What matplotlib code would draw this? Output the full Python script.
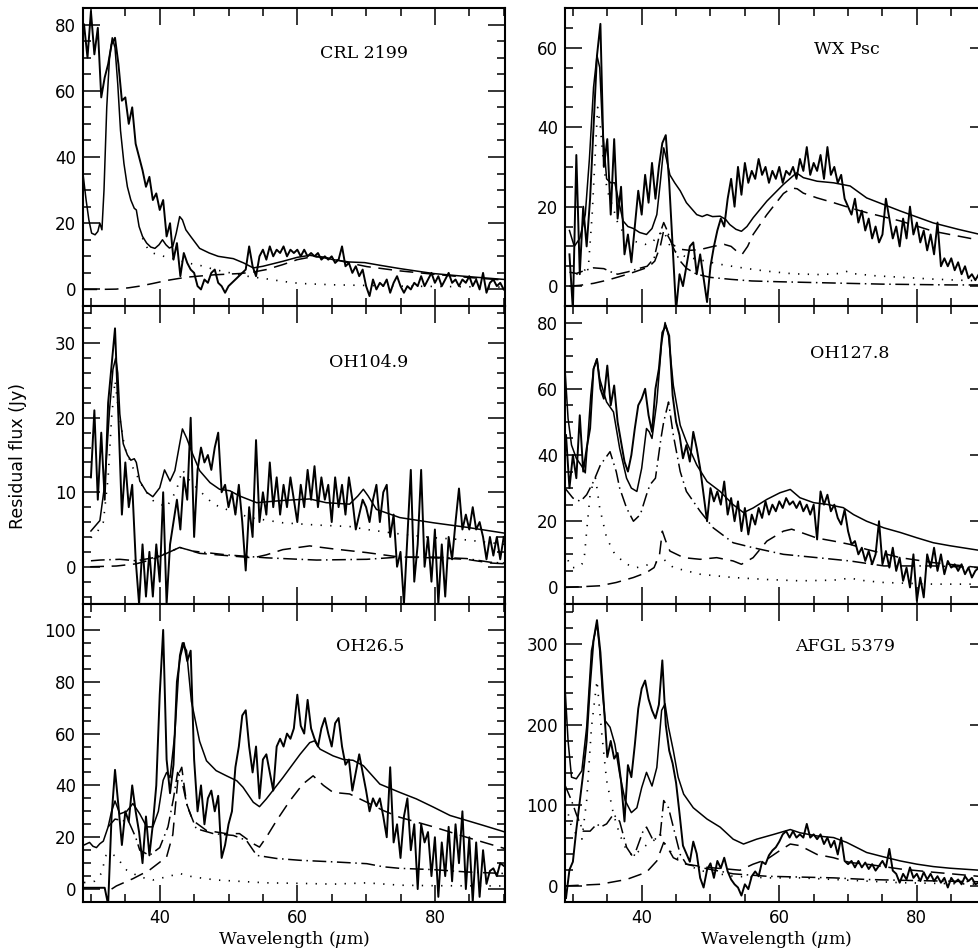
import numpy as np
import matplotlib
matplotlib.use("Agg")
import matplotlib.pyplot as plt
from matplotlib.ticker import MultipleLocator

# wavelength window shared by all panels (um)
wave_min, wave_max = 28.85, 90.2
obs_step = 0.5

# ---------------- CRL 2199 ----------------
crl_obs_start = 29.0
crl_obs_y = [80, 70, 84, 71, 79, 58, 64, 68, 74, 76, 68, 57, 58, 50, 55, 44, 40, 36, 31, 34,
             27, 29, 24, 27, 16, 20, 9, 14, 4, 11, 8, 6, 5, 1, 0, 3, 2, 5, 6, 2,
             1, -1, 1, 2, 3, 4, 5, 6, 13, 7, 4, 10, 12, 9, 13, 10, 12, 11, 13, 10,
             12, 11, 12, 10, 12, 10, 11, 10, 11, 9, 10, 9, 10, 8, 9, 13, 7, 8, 5, 7,
             4, 6, 1, -2, 3, 0, 2, 1, 3, -1, 2, 4, 1, -1, 1, 0, 2, 1, 4, 1,
             3, 5, 2, 4, 1, 3, 5, 2, 3, 1, 3, 2, 4, 1, 3, 0, 5, -1, 2, 3,
             1, 2, 0]
crl_model = [(28.9, 34), (29.3, 27), (29.7, 21), (30.1, 17), (30.6, 16.5), (31.0, 17.5), (31.3, 20),
             (31.6, 18), (31.9, 30), (32.3, 55), (32.7, 70), (33.1, 76), (33.5, 73), (33.9, 62),
             (34.3, 48), (34.8, 38), (35.3, 31), (35.8, 27), (36.3, 24.5), (36.6, 24), (37.0, 19),
             (37.5, 16), (38.1, 14), (38.7, 12.8), (39.3, 12.4), (39.9, 13.5), (40.4, 15), (40.9, 13.5),
             (41.4, 12.5), (41.9, 13), (42.4, 17), (42.9, 22), (43.3, 21), (43.8, 18), (44.5, 16),
             (45.8, 12.4), (47.2, 11), (48.5, 10), (50.7, 9.3), (52.2, 8), (53.6, 6.5), (55.0, 7),
             (57.9, 8.5), (60.0, 9.7), (61.8, 10.3), (63.5, 9.8), (65.2, 9), (67.5, 8.3), (69.8, 8.1),
             (72.0, 7.3), (74.9, 6.3), (77.5, 5.5), (79.8, 4.8), (83.0, 4.2), (86.5, 3.6), (90.2, 3.0)]
crl_dotted = [(37.5, 15.5), (38.2, 12.5), (39.0, 11), (40.0, 10.3), (41.0, 9.8), (42.0, 9.3), (43.0, 8.6),
              (44.0, 8), (45.8, 7.3), (48.0, 6), (50.7, 4.8), (53.0, 3.9), (55.5, 3.2), (58.0, 2.4),
              (60.4, 1.8), (65.2, 1.4), (70.1, 1.2), (75.0, 1.0), (80.0, 0.9), (85.0, 0.8), (90.2, 0.7)]
crl_dashed = [(28.9, 0), (31.0, 0), (33.7, 0.1), (35.5, 0.5), (37.1, 1), (39.0, 1.8), (41.0, 2.7),
              (43.9, 3.7), (47.8, 4.4), (51.6, 4.8), (53.5, 5.2), (55.5, 6), (57.9, 7.5), (60.0, 9),
              (62.0, 9.8), (63.5, 9.8), (65.2, 9.2), (67.5, 8), (70.1, 6.9), (74.9, 5.6), (79.8, 4.6),
              (85.0, 3.6), (90.2, 2.8)]

# ---------------- WX Psc ----------------
wx_obs_start = 29.5
wx_obs_y = [8, -6, 33, 3, 20, 10, 22, 40, 58, 66, 30, 37, 18, 37, 17, 25, 8, 13, 6, 15,
            24, 18, 28, 21, 31, 22, 30, 36, 38, 26, 10, -6, 3, 0, 5, 10, 11, 3, 8, 2,
            -4, 5, 10, 14, 17, 15, 22, 27, 20, 30, 23, 31, 26, 29, 27, 32, 28, 30, 26, 29,
            27, 30, 26, 29, 28, 30, 27, 32, 29, 35, 28, 31, 29, 33, 27, 35, 28, 30, 26, 28,
            22, 20, 18, 22, 16, 19, 14, 17, 12, 15, 11, 13, 22, 17, 12, 15, 10, 17, 12, 20,
            13, 16, 11, 14, 9, 13, 8, 16, 5, 7, 5, 7, 4, 6, 3, 5, 2, 3, 1.5, 3,
            4, 3]
wx_model = [(29.5, 14), (30.2, 10), (31.0, 12), (31.8, 18), (32.4, 32), (33.0, 50), (33.5, 58),
            (33.9, 55), (34.3, 40), (34.9, 27), (35.5, 26), (36.1, 26), (36.7, 21), (37.3, 16.4),
            (38.0, 15), (38.8, 14.5), (39.7, 13.5), (40.7, 13), (41.5, 14.5), (42.2, 18), (42.7, 26),
            (43.2, 34.8), (43.6, 32), (44.1, 28), (44.8, 26), (45.6, 24), (46.5, 21), (48.0, 18),
            (48.8, 17.5), (49.5, 18), (50.3, 17.5), (51.4, 17.6), (52.2, 16.8), (52.8, 15.5),
            (53.7, 14.3), (54.5, 13.8), (55.3, 15), (56.2, 17.2), (58.2, 21.4), (60.6, 25.6),
            (62.5, 28.5), (63.5, 27.3), (65.5, 26.4), (67.9, 26), (70.3, 25.2), (72.7, 22.2),
            (77.6, 18.9), (82.4, 15.9), (86.0, 14.3), (90.2, 12.6)]
wx_dotted = [(30.5, 3), (31.5, 3.3), (32.3, 6), (32.8, 18), (33.3, 35), (33.6, 45), (34.0, 40),
             (34.5, 30), (35.0, 24), (35.8, 20), (36.5, 16), (37.5, 13), (38.5, 11.5), (39.5, 11),
             (40.5, 10.5), (41.5, 11), (42.3, 12.5), (43.2, 14), (44.0, 10.5), (45.0, 8.5), (46.5, 7.3),
             (48.0, 6.8), (50.0, 6), (52.0, 5.3), (55.0, 4.5), (58.0, 3.8), (62.0, 3.1), (66.0, 2.9),
             (69.0, 3.2), (70.0, 3.8), (71.0, 3.1), (74.0, 2.6), (78.0, 2.2), (82.0, 1.8), (86.0, 1.5),
             (90.2, 1.3)]
wx_dashed = [(29.5, 0), (31.0, 0.2), (33.0, 0.7), (35.0, 1.5), (37.0, 2.5), (38.5, 3.3), (40.0, 4.2),
             (41.0, 4.8), (41.9, 6.3), (42.7, 10), (43.2, 14), (43.7, 13), (44.5, 10.5), (45.5, 9.3),
             (47.0, 9), (48.5, 9.2), (50.4, 10), (52.0, 10.5), (53.0, 10), (53.8, 8.8), (54.6, 8),
             (55.4, 10), (56.2, 13), (58.2, 18), (60.6, 23.3), (61.8, 24.7), (62.6, 24.5), (63.5, 23.4),
             (65.5, 22.2), (67.9, 21), (70.3, 19.7), (72.7, 18.5), (77.6, 16.4), (82.4, 13.8),
             (86.0, 12.6), (90.2, 11.2)]
wx_dashdot = [(29.5, 3.5), (30.5, 3.2), (31.5, 3.8), (33.0, 4.6), (34.5, 4.4), (35.5, 3.6), (36.5, 3.0),
              (38.0, 3.6), (39.5, 4.4), (40.8, 5), (41.8, 7), (42.6, 13), (43.2, 16), (43.7, 14),
              (44.5, 10), (45.5, 6.5), (46.5, 4.5), (48.0, 3), (50.0, 2.2), (53.0, 1.7), (56.0, 1.3),
              (60.0, 1.1), (65.0, 0.9), (70.0, 0.7), (75.0, 0.5), (80.0, 0.4), (85.0, 0.3), (90.2, 0.3)]

# ---------------- OH104.9 ----------------
oh104_obs_start = 30.0
oh104_obs_y = [12, 21, 9, 18, 9, 22, 27, 32, 20, 7, 14, 8, 11, 1, -5, 3, -4, 2, -4, 3,
               -2, 10, -5, 3, 6, 9, 5, 12, 9, 20, 4, 13, 16, 14, 15, 13, 16, 18, 10, 11,
               8, 10, 7, 11, 6, -0.5, 8, 4, 17, 6, 10, 7, 14, 8, 12, 7, 11, 8, 12, 9,
               6, 11, 8, 13, 9, 13.5, 8, 12, 9, 11, 6, 12, 8, 11, 7, 12, 9, 5, 7, 9,
               8, 6, 9, 11, 6, 10, 11, 4, 7, 0, 2, -5, 4, 13, -2, 3, 13, 0, 4, -2,
               5, -5, 3, -4, 4, 1, 6, 10.5, 5, 7, 5, 8, 5, 6, 4, 1, 4, 1.5, 4, 1,
               4]
oh104_model = [(30.0, 4.8), (31.3, 6.2), (32.0, 11), (32.7, 21), (33.2, 26.5), (33.6, 28), (33.9, 26),
               (34.2, 20.5), (34.7, 16.5), (35.3, 15), (35.8, 14.3), (36.3, 14.5), (36.6, 14),
               (37.1, 11.5), (38.1, 10), (39.0, 9.4), (40.0, 10.6), (40.7, 13), (41.5, 11.5),
               (42.2, 12.9), (42.9, 16.5), (43.3, 18.5), (43.9, 17.3), (44.8, 15.1), (45.8, 12.9),
               (47.3, 11.3), (48.7, 10.4), (50.2, 10.2), (51.6, 9.5), (54.1, 8.6), (57.9, 8.9),
               (61.8, 9.1), (64.2, 8.6), (67.6, 8.4), (68.8, 9.5), (69.6, 10.4), (70.3, 9.5),
               (71.5, 7.7), (74.9, 6.6), (79.8, 5.9), (84.6, 5.3), (90.2, 4.5)]
oh104_dotted = [(30.0, 3.9), (31.0, 4.8), (31.8, 6), (32.5, 12), (33.0, 20), (33.5, 25), (34.0, 21),
                (34.9, 16), (36.1, 13.3), (37.6, 10.6), (39.0, 8.9), (41.0, 8), (42.4, 10.2),
                (43.3, 13), (44.4, 11.5), (45.8, 10.2), (47.8, 8.4), (49.7, 7.7), (53.1, 6.6),
                (57.9, 5.9), (62.8, 5.6), (67.6, 5.4), (70.1, 5), (74.9, 4.4), (79.8, 3.9),
                (84.6, 3.6), (90.2, 3.0)]
oh104_dashed = [(29.9, 0), (33.7, 0.1), (36.6, 0.4), (39.0, 1), (41.0, 1.8), (42.9, 2.6), (44.0, 2.3),
                (45.8, 1.8), (49.7, 1.5), (53.6, 1.2), (55.5, 1.6), (57.9, 2.3), (61.8, 2.8),
                (65.2, 2.4), (70.1, 1.9), (74.9, 1.3), (79.8, 1.2), (84.6, 1.0), (88.1, 0.5), (90.2, 0.4)]
oh104_dashdot = [(30.0, 0.8), (31.3, 0.9), (34.2, 1.0), (36.6, 0.8), (39.0, 1.2), (41.0, 1.8),
                 (42.9, 2.6), (44.8, 2.1), (49.7, 1.6), (55.5, 1.2), (62.8, 0.9), (70.1, 1.0),
                 (74.9, 1.3), (79.8, 1.3), (84.6, 1.1), (88.1, 0.6), (90.2, 0.5)]

# ---------------- OH127.8 ----------------
oh127_obs_start = 29.0
oh127_obs_y = [46, 30, 40, 33, 52, 35, 42, 48, 66, 69, 60, 57, 67, 55, 61, 50, 44, 38, 35, 40,
               48, 55, 57, 60, 52, 47, 60, 66, 77, 79, 76, 58, 50, 46, 39, 43, 38, 47, 42, 36,
               28, 20, 30, 26, 29, 25, 32, 22, 27, 20, 26, 17, 24, 16, 22, 19, 24, 21, 26, 22,
               25, 23, 26, 24, 27, 25, 26, 24, 26, 23, 25, 22, 25, 14.5, 29, 25, 28, 23, 25, 21,
               19, 23.5, 17, 13, 14, 10, 12, 8, 11, 7, 10, 20, 7, 11, 6, 12, 5, 9, 2, 6,
               0, 10, -4, 3, -3, 10, 6, 12, 5, 10, 4, 8, 6, 7, 5, 7, 4, 6, 3, 5,
               6, 5, 4]
oh127_model = [(28.85, 66), (29.3, 51), (29.8, 43), (30.5, 39), (31.3, 36.6), (31.8, 34.6), (32.2, 46),
               (32.6, 58), (33.0, 66), (33.5, 69), (33.9, 63), (34.9, 56), (35.9, 53), (36.8, 42),
               (37.8, 33), (38.5, 30), (39.3, 29), (40.0, 36), (40.7, 48), (41.1, 47), (41.5, 45),
               (42.2, 56), (42.9, 74), (43.4, 80), (43.9, 76), (44.6, 61), (45.6, 49), (46.5, 44),
               (48.0, 37), (49.5, 32), (51.4, 29), (53.3, 25), (54.8, 22.6), (56.2, 24), (58.2, 26.6),
               (60.1, 28.6), (61.6, 29.6), (63.0, 27.1), (65.0, 25.6), (66.9, 25.1), (69.3, 24.1),
               (70.8, 22), (72.7, 20), (75.2, 18), (77.6, 16.6), (80.0, 15), (82.4, 13.5),
               (84.8, 12.6), (89.1, 11.2), (90.2, 10.9)]
oh127_dotted = [(28.85, 11), (29.1, 9), (29.8, 6), (30.5, 6), (31.3, 7), (31.7, 10), (32.0, 17),
                (32.5, 28), (33.0, 32), (33.3, 33), (33.9, 24), (34.9, 15), (36.1, 10), (37.8, 7),
                (39.3, 6), (41.2, 7), (42.7, 8), (43.2, 8.5), (44.6, 6), (48.5, 4), (53.3, 3),
                (58.2, 2.4), (63.0, 2.0), (67.9, 2.2), (70.3, 2.8), (72.5, 2.0), (75.2, 1.5),
                (82.4, 1.0), (90.2, 1.0)]
oh127_dashed = [(28.85, 0), (31.0, 0.2), (33.9, 0.5), (36.3, 1.5), (38.8, 3), (40.7, 4.5), (41.8, 6),
                (42.6, 10), (43.0, 17), (43.5, 14), (44.1, 11), (46.1, 9), (48.5, 8.5), (50.9, 9),
                (53.3, 8), (54.5, 7), (56.2, 9), (58.2, 14), (60.6, 17), (61.8, 17.6), (64.0, 16),
                (65.5, 14.9), (67.9, 14), (70.3, 13), (72.7, 11.5), (77.6, 9), (82.4, 7.5),
                (89.1, 6), (90.2, 5.8)]
oh127_dashdot = [(28.85, 30), (30.0, 27), (31.1, 26), (32.0, 28), (33.0, 32), (34.0, 37), (35.4, 41),
                 (36.3, 35), (36.8, 30), (37.8, 24), (38.8, 20), (39.8, 22), (40.7, 28), (41.2, 31),
                 (42.0, 33), (42.8, 45), (43.2, 50), (43.9, 56), (44.6, 46), (45.6, 35), (46.5, 29),
                 (48.5, 23), (50.4, 18), (53.3, 13.5), (56.2, 12), (60.6, 10), (65.5, 9), (70.3, 8),
                 (75.2, 6.5), (82.4, 6.5), (89.1, 6), (90.2, 6)]

# ---------------- OH26.5 ----------------
oh26_obs_start = 29.0
oh26_obs_y = [0.5, 0.5, 0.5, 0.5, 0.5, 0.5, 0.5, -6, 28, 46, 32, 17, 30, 26, 40, 30, 22, 10, 28, 13,
              25, 40, 75, 100, 50, 37, 48, 80, 90, 95, 88, 92, 50, 30, 40, 25, 35, 38, 30, 36,
              12, 17, 25, 30, 47, 55, 67, 69, 55, 45, 55, 35, 50, 52, 45, 38, 55, 58, 55, 60,
              58, 62, 75, 63, 60, 73, 62, 58, 55, 62, 66, 60, 55, 64, 66, 55, 48, 50, 38, 45,
              52, 45, 38, 30, 35, 32, 35, 28, 20, 47, 18, 25, 12, 28, 35, 15, 25, 0, 25, 18,
              22, 5, 20, -3, 18, 5, 24, 3, 25, 10, 30, 0, 20, -5, 18, -3, 15, 2, 7, 8,
              5, 10, 9]
oh26_model = [(29.0, 17), (29.8, 18), (30.3, 16.5), (30.8, 16), (31.3, 17.5), (31.8, 18.5), (32.5, 24),
              (33.0, 30), (33.5, 34), (34.2, 29), (35.2, 30), (36.1, 33), (37.1, 29), (38.1, 24),
              (39.0, 24), (39.8, 30), (40.5, 42), (41.0, 45), (41.5, 43), (42.2, 60), (42.9, 90),
              (43.3, 95), (43.9, 92), (44.6, 72.5), (45.8, 57), (46.8, 49.5), (48.2, 45.7),
              (49.7, 43.7), (51.2, 41.8), (52.1, 39.3), (53.6, 33.5), (54.5, 31.8), (55.5, 34.8),
              (57.9, 43), (60.4, 52), (61.8, 56.5), (62.5, 57.2), (63.3, 54), (65.2, 51.4),
              (66.7, 50), (68.1, 49.7), (69.6, 47.6), (72.0, 40.5), (74.9, 37.3), (77.3, 34.8),
              (79.8, 31.6), (82.2, 28.4), (84.6, 26.5), (87.0, 24.6), (90.2, 22)]
oh26_dotted = [(29.0, 2.5), (30.5, 3), (31.5, 6), (32.2, 13), (32.8, 14), (33.7, 12.4), (35.2, 7.3),
               (37.1, 4.7), (39.0, 3.5), (41.0, 4.7), (42.9, 6), (44.8, 4.7), (48.2, 3.5), (55.5, 2.4),
               (60.4, 2.2), (65.2, 1.9), (70.1, 2.4), (74.9, 1.5), (79.8, 1.3), (90.2, 1.2)]
oh26_dashed = [(33.0, 0), (33.7, 1.2), (36.1, 4), (38.5, 7.3), (41.0, 12.4), (41.9, 21), (42.7, 44),
               (43.2, 47), (43.9, 33), (44.8, 26.5), (46.8, 22.6), (49.7, 21.4), (51.6, 21.4),
               (53.6, 17.5), (54.5, 16.2), (55.5, 20), (57.0, 26.5), (58.9, 34), (60.8, 40.5),
               (62.3, 43.7), (63.8, 40), (65.2, 37.3), (67.6, 36.7), (70.1, 33.5), (72.5, 30.3),
               (74.9, 27.7), (79.8, 24), (84.6, 20), (90.2, 15.6)]
oh26_dashdot = [(32.5, 24), (33.5, 27), (35.5, 26), (36.5, 20), (37.1, 15), (38.5, 13), (40.0, 16),
                (41.2, 24), (42.0, 35), (42.6, 45), (43.2, 42), (44.0, 32), (45.3, 23.3), (47.8, 21.4),
                (50.7, 20.7), (52.6, 18.8), (54.1, 13), (57.0, 11.8), (60.4, 11.1), (65.2, 10.5),
                (70.1, 9.8), (72.5, 8.6), (74.9, 8), (79.8, 7.5), (84.6, 6.6), (90.2, 6)]

# ---------------- AFGL 5379 ----------------
afgl_obs_start = 29.0
afgl_obs_y = [-15, 20, 30, 70, 105, 140, 180, 250, 305, 330, 290, 225, 160, 180, 158, 165, 130, 80, 150, 135,
              175, 220, 245, 255, 232, 218, 208, 225, 280, 200, 168, 152, 128, 90, 50, 40, 30, 55, 40, 10,
              -2, 20, 28, 10, 31, 22, 35, 18, 8, 2, -2, -12, 2, -4, 12, 18, 12, 30, 27, 38,
              44, 48, 55, 64, 68, 60, 68, 60, 64, 60, 77, 60, 64, 58, 64, 52, 60, 48, 56, 39,
              60, 31, 27, 31, 23, 31, 23, 29, 21, 27, 19, 25, 31, 23, 46, 19, 15, 4, 15, 8,
              23, 10, 15, 6, 17, 8, 15, 6, 12, 4, 10, -2, 10, 4, 8, 2, 12, 6, 10, 2,
              4, 0, 2]
afgl_model = [(28.85, 247), (29.3, 180), (29.8, 135), (30.5, 133), (31.3, 143), (32.0, 197), (32.7, 292),
              (33.5, 326), (33.9, 292), (34.3, 240), (34.7, 205), (35.4, 197), (36.1, 176), (36.8, 139),
              (37.6, 106), (38.5, 91), (39.3, 97), (40.0, 122), (40.7, 141), (41.5, 124), (42.2, 147),
              (42.9, 218), (43.4, 226), (43.9, 197), (44.6, 168), (45.3, 135), (46.1, 114), (47.5, 97),
              (49.5, 83), (51.4, 73), (53.3, 58), (54.8, 52), (56.7, 58), (59.2, 64), (61.6, 70),
              (63.0, 66), (65.5, 62), (67.9, 60), (69.8, 54), (72.7, 41.5), (75.2, 36), (77.6, 31),
              (80.0, 27), (82.4, 24), (84.8, 22), (89.1, 19.5), (90.2, 19)]
afgl_dotted = [(28.85, 100), (29.1, 97), (29.8, 73), (30.5, 64), (31.3, 58), (32.0, 106), (32.7, 197),
               (33.5, 255), (34.2, 189), (34.9, 131), (35.9, 89), (36.8, 64), (37.8, 44), (38.8, 37),
               (40.2, 48), (41.7, 56), (42.7, 64), (43.6, 48), (45.1, 35), (46.5, 27), (48.5, 19),
               (53.3, 12), (58.2, 10), (63.0, 10), (67.9, 8), (72.7, 6), (77.6, 4), (90.2, 2)]
afgl_dashed = [(28.85, 0), (33.9, 2), (37.8, 8), (40.7, 17), (42.2, 31), (43.2, 54), (43.6, 50),
               (44.6, 35), (46.5, 27), (49.5, 23), (52.4, 21), (54.3, 19.5), (56.2, 27), (58.2, 33),
               (60.1, 44), (61.6, 52), (63.0, 50), (65.5, 39), (67.9, 35), (70.3, 29), (72.7, 27),
               (77.6, 21), (82.4, 17), (90.2, 11)]
afgl_dashdot = [(28.85, 125), (29.8, 106), (30.5, 89), (31.5, 68), (32.5, 68), (33.5, 77), (34.0, 73),
                (34.9, 77), (35.9, 89), (36.8, 80), (37.8, 48), (38.8, 35), (40.2, 68), (40.7, 73),
                (41.7, 56), (42.7, 64), (43.2, 106), (43.9, 97), (44.6, 73), (45.6, 39), (46.5, 27),
                (48.5, 23), (50.9, 19), (53.3, 15), (58.2, 12), (63.0, 11), (67.9, 10), (72.7, 8),
                (77.6, 7), (90.2, 5)]

# panel settings: name, y range, major / minor y step, label position (axes fraction)
panels = [
    ("CRL 2199", crl_obs_start, crl_obs_y, crl_model, crl_dotted, crl_dashed, None, (-5, 85), 20, 5, (0.666, 0.846)),
    ("WX Psc", wx_obs_start, wx_obs_y, wx_model, wx_dotted, wx_dashed, wx_dashdot, (-5, 70), 20, 5, (0.667, 0.862)),
    ("OH104.9", oh104_obs_start, oh104_obs_y, oh104_model, oh104_dotted, oh104_dashed, oh104_dashdot, (-5, 35), 10, 2, (0.677, 0.812)),
    ("OH127.8", oh127_obs_start, oh127_obs_y, oh127_model, oh127_dotted, oh127_dashed, oh127_dashdot, (-5, 85), 20, 5, (0.675, 0.839)),
    ("OH26.5", oh26_obs_start, oh26_obs_y, oh26_model, oh26_dotted, oh26_dashed, oh26_dashdot, (-5, 110), 20, 5, (0.68, 0.857)),
    ("AFGL 5379", afgl_obs_start, afgl_obs_y, afgl_model, afgl_dotted, afgl_dashed, afgl_dashdot, (-20, 350), 100, 20, (0.664, 0.857)),
]

plt.rcParams['font.family'] = ['DejaVu Sans']
plt.rcParams['mathtext.fontset'] = 'dejavuserif'

fig = plt.figure(figsize=(9.79, 9.5), dpi=100)

# axes boxes in figure fractions (right column runs past the picture edge, like the original)
col_left = [0.0848, 0.5771]
ax_w = 0.4311
row_bottom = [0.6779, 0.3642, 0.0505]
ax_h = 0.3137


def draw_curve(ax, pts, **kw):
    xs = [p[0] for p in pts]
    ys = [p[1] for p in pts]
    ax.plot(xs, ys, color='black', **kw)


for i, (name, o_start, o_y, model, dotted, dashed, dashdot, ylim, ymaj, ymin, lpos) in enumerate(panels):
    row, col = i // 2, i % 2
    ax = fig.add_axes([col_left[col], row_bottom[row], ax_w, ax_h])

    ox = o_start + obs_step * np.arange(len(o_y))
    ax.plot(ox, o_y, color='black', lw=1.4)          # observed residual spectrum
    draw_curve(ax, model, lw=1.1)                     # total model
    draw_curve(ax, dotted, lw=1.2, dashes=(0.8, 5))   # components
    draw_curve(ax, dashed, lw=1.1, dashes=(9, 5))
    if dashdot is not None:
        draw_curve(ax, dashdot, lw=1.1, dashes=(9, 3, 1, 3))

    ax.set_xlim(wave_min, wave_max)
    ax.set_ylim(*ylim)
    ax.xaxis.set_major_locator(MultipleLocator(20))
    ax.xaxis.set_minor_locator(MultipleLocator(5))
    ax.yaxis.set_major_locator(MultipleLocator(ymaj))
    ax.yaxis.set_minor_locator(MultipleLocator(ymin))
    ax.tick_params(which='both', direction='in', top=True, right=True, width=1.1, labelsize=12)
    ax.tick_params(which='major', length=12)
    ax.tick_params(which='minor', length=6)
    ax.tick_params(axis='y', pad=5)
    ax.tick_params(axis='x', pad=5)
    for s in ax.spines.values():
        s.set_linewidth(1.5)
    if row < 2:
        ax.tick_params(labelbottom=False)
    else:
        # x label placed just under the tick labels, centred on the column
        fig.text(col_left[col] + ax_w / 2, 1 - 939 / 950, r'Wavelength ($\mu$m)',
                 ha='center', va='center', family='DejaVu Serif', fontsize=12.5)

    ax.text(lpos[0], lpos[1], name, transform=ax.transAxes, ha='center', va='center',
            family='DejaVu Serif', fontsize=12.5)

fig.text(0.018, 1 - 456 / 950, 'Residual flux (Jy)', rotation=90, ha='center', va='center', fontsize=12.5)

fig.savefig('out.png', dpi=100)
